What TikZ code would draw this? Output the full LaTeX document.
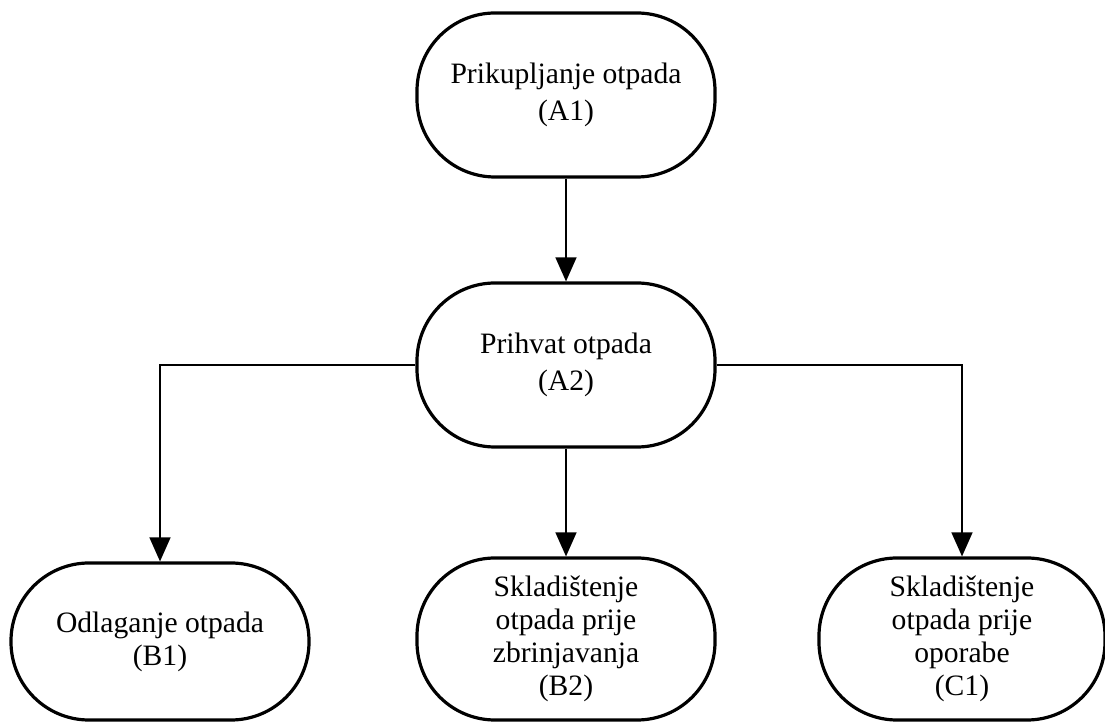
\documentclass[tikz,border=0pt]{standalone}
\usepackage{fontspec}
\setmainfont{Liberation Serif}
\usepackage{tikz}
\usetikzlibrary{arrows.meta}

\begin{document}
\begin{tikzpicture}[x=0.5pt,y=0.5pt,
  stage/.style={draw,line width=1.6pt,rounded corners=39pt,align=center,
    inner sep=0pt,minimum width=149pt,minimum height=82pt,
    font=\fontsize{14.8}{18.4}\selectfont},
  store/.style={stage,minimum height=81pt,font=\fontsize{14.8}{16.4}\selectfont},
  flow/.style={line width=0.65pt,-{Triangle[length=12pt,width=10.5pt]}}]
  \useasboundingbox (0,0) rectangle (1105,723);
  \node[stage](A1) at (566,628) {Prikupljanje otpada\\(A1)};
  \node[stage](A2) at (566,358) {Prihvat otpada\\(A2)};
  \node[store,minimum height=78.5pt](B1) at (160,81.5) {Odlaganje otpada\\(B1)};
  \node[store](B2) at (566,84) {Skladištenje\\otpada prije\\zbrinjavanja\\(B2)};
  \node[store,minimum width=143pt](C1) at (962,84) {Skladištenje\\otpada prije\\oporabe\\(C1)};
  \draw[flow](A1.south)--(A2.north);
  \foreach \s/\t in {west/B1,south/B2,east/C1}{
    \draw[flow](A2.\s)-|(\t.north);}
\end{tikzpicture}
\end{document}
